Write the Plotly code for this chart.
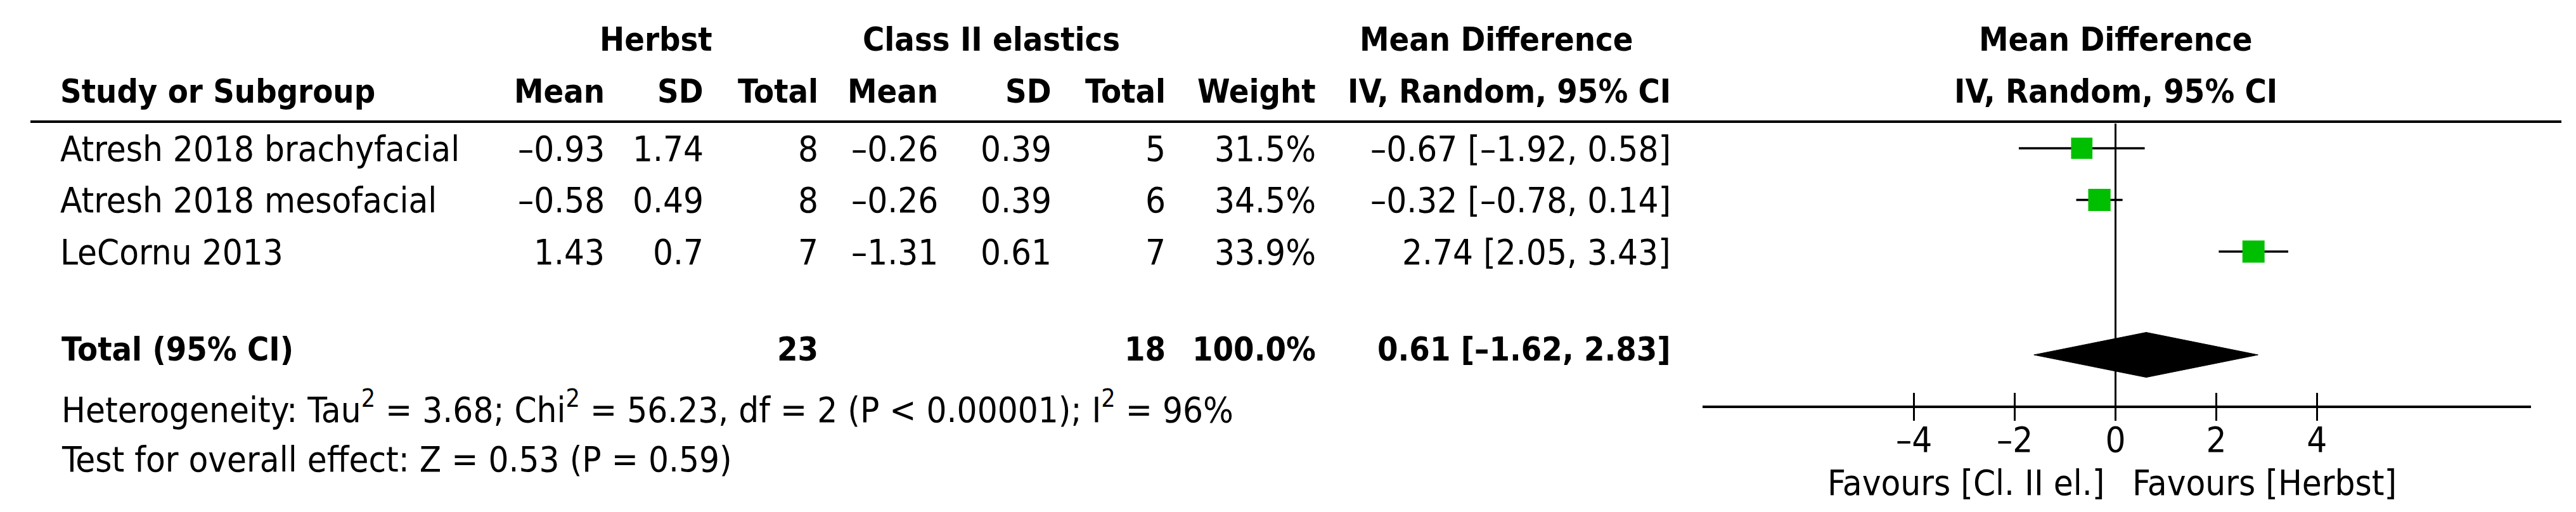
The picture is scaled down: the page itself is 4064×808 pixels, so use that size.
import plotly.graph_objects as go

# ---------------- data ----------------
studies = ["Atresh 2018 brachyfacial", "Atresh 2018 mesofacial", "LeCornu 2013"]
herbst_mean = [-0.93, -0.58, 1.43]
herbst_sd = [1.74, 0.49, 0.7]
herbst_n = [8, 8, 7]
elastic_mean = [-0.26, -0.26, -1.31]
elastic_sd = [0.39, 0.39, 0.61]
elastic_n = [5, 6, 7]
weights = [31.5, 34.5, 33.9]
md = [-0.67, -0.32, 2.74]
ci_low = [-1.92, -0.78, 2.05]
ci_high = [0.58, 0.14, 3.43]
study_rows = [1, 2, 3]

total_label = "Total (95% CI)"
total_herbst_n = 23
total_elastic_n = 18
total_weight = 100.0
total_md = 0.61
total_low = -1.62
total_high = 2.83
total_row = 5

het_tau2 = 3.68
het_chi2 = 56.23
het_df = 2
het_p = "P &lt; 0.00001"
het_i2 = 96
z_value = 0.53
z_p = 0.59

tick_vals = [-4, -2, 0, 2, 4]
left_label = "Favours [Cl. II el.]"
right_label = "Favours [Herbst]"

# ---------------- layout constants ----------------
W, H = 4064, 808
FONT = "DejaVu Sans Condensed"
FS = 56          # regular text
FSB = 52         # bold text
ROW0_PX = 144.5  # pixel y of row 0
ROW_PX = 81.5    # pixels per row
AXIS_X0_PX, AXIS_X1_PX = 2678, 3985
X_RANGE = [-8.2, 8.25]
TEXT_LIFT = 11


def fmt(v, nd=None):
    s = f"{v:.{nd}f}" if nd is not None else f"{v:g}"
    return s.replace("-", "\u2013")


def px_to_row(py):
    return (py - ROW0_PX) / ROW_PX


def paper_x(px):
    return px / W


annotations = []


def add_text(text, x_px, baseline_px, align="left", bold=False, xref="paper", xval=None, xshift=0):
    size = FSB if bold else FS
    centre_px = baseline_px - 0.346 * size - TEXT_LIFT
    annotations.append(dict(
        text=f"<b>{text}</b>" if bold else text,
        x=xval if xval is not None else paper_x(x_px),
        xref=xref,
        y=1 - centre_px / H, yref="paper",
        xanchor=align, yanchor="middle",
        showarrow=False, xshift=xshift,
        font=dict(family=FONT, size=size, color="black"),
    ))


# header line 1
HDR1, HDR2 = 83, 165
add_text("Herbst", 1027, HDR1, "center", True)
add_text("Class II elastics", 1556, HDR1, "center", True)
add_text("Mean Difference", 2353, HDR1, "center", True)
add_text("Mean Difference", None, HDR1, "center", True, xref="x", xval=0)
# header line 2
add_text("Study or Subgroup", 85, HDR2, "left", True)
col_right = dict(hm=948, hsd=1104, hn=1285, em=1474, esd=1653, en=1833, w=2070, ci=2630)
add_text("Mean", col_right["hm"], HDR2, "right", True)
add_text("SD", col_right["hsd"], HDR2, "right", True)
add_text("Total", col_right["hn"], HDR2, "right", True)
add_text("Mean", col_right["em"], HDR2, "right", True)
add_text("SD", col_right["esd"], HDR2, "right", True)
add_text("Total", col_right["en"], HDR2, "right", True)
add_text("Weight", col_right["w"], HDR2, "right", True)
add_text("IV, Random, 95% CI", col_right["ci"], HDR2, "right", True)
add_text("IV, Random, 95% CI", None, HDR2, "center", True, xref="x", xval=0)

# study rows
row_baselines = [257, 338, 420]
for i, s in enumerate(studies):
    b = row_baselines[i]
    add_text(s, 85, b, "left")
    add_text(fmt(herbst_mean[i]), col_right["hm"], b, "right")
    add_text(fmt(herbst_sd[i]), col_right["hsd"], b, "right")
    add_text(str(herbst_n[i]), col_right["hn"], b, "right")
    add_text(fmt(elastic_mean[i]), col_right["em"], b, "right")
    add_text(fmt(elastic_sd[i]), col_right["esd"], b, "right")
    add_text(str(elastic_n[i]), col_right["en"], b, "right")
    add_text(f"{weights[i]:.1f}%", col_right["w"], b, "right")
    add_text(f"{fmt(md[i], 2)} [{fmt(ci_low[i], 2)}, {fmt(ci_high[i], 2)}]", col_right["ci"], b, "right")

# total row
TB = 572
add_text(total_label, 87, TB, "left", True)
add_text(str(total_herbst_n), col_right["hn"], TB, "right", True)
add_text(str(total_elastic_n), col_right["en"], TB, "right", True)
add_text(f"{total_weight:.1f}%", col_right["w"], TB, "right", True)
add_text(f"{fmt(total_md, 2)} [{fmt(total_low, 2)}, {fmt(total_high, 2)}]", col_right["ci"], TB, "right", True)

# footer
add_text(f"Heterogeneity: Tau<sup>2</sup> = {het_tau2:.2f}; Chi<sup>2</sup> = {het_chi2:.2f}, "
         f"df = {het_df} ({het_p}); I<sup>2</sup> = {het_i2}%", 87, 665, "left")
add_text(f"Test for overall effect: Z = {z_value:.2f} (P = {z_p:.2f})", 87, 747, "left")

# favours labels
add_text(left_label, None, 784, "right", xref="x", xval=0, xshift=-16)
add_text(right_label, None, 784, "left", xref="x", xval=0, xshift=24)

# ---------------- figure ----------------
fig = go.Figure()

# study CIs + squares
fig.add_trace(go.Scatter(
    x=md, y=study_rows, mode="markers",
    marker=dict(symbol="square", color="#00BF00", opacity=1,
                size=[6.0 * w ** 0.5 for w in weights], line=dict(width=0)),
    error_x=dict(type="data", symmetric=False,
                 array=[h - m for h, m in zip(ci_high, md)],
                 arrayminus=[m - l for m, l in zip(md, ci_low)],
                 width=0, thickness=3.5, color="black"),
    hoverinfo="skip", showlegend=False,
))

# pooled diamond
DH = 35.5 / ROW_PX
fig.add_trace(go.Scatter(
    x=[total_low, total_md, total_high, total_md, total_low],
    y=[total_row, total_row - DH, total_row, total_row + DH, total_row],
    mode="lines", fill="toself", fillcolor="black",
    line=dict(color="black", width=1),
    hoverinfo="skip", showlegend=False,
))

shapes = [
    # header underline
    dict(type="line", xref="paper", yref="paper", x0=40 / W, x1=4033 / W,
         y0=1 - 184 / H, y1=1 - 184 / H, line=dict(color="black", width=4)),
    # line of no effect
    dict(type="line", xref="x", yref="y", x0=0, x1=0, y0=px_to_row(187), y1=px_to_row(634),
         line=dict(color="black", width=3)),
]

axis_pos = 1 - 634 / H
dom = [AXIS_X0_PX / W, AXIS_X1_PX / W]
fig.update_layout(
    width=W, height=H,
    margin=dict(l=0, r=0, t=0, b=0),
    paper_bgcolor="white", plot_bgcolor="white",
    font=dict(family=FONT, size=FS, color="black"),
    showlegend=False,
    # main axis: line, upper tick halves and labels
    xaxis=dict(domain=dom, range=X_RANGE, anchor="free", position=axis_pos,
               showgrid=False, zeroline=False, showline=True, linecolor="black", linewidth=4,
               ticks="inside", ticklen=20, tickwidth=3, tickcolor="black",
               tickvals=tick_vals, ticktext=[fmt(v) for v in tick_vals],
               ticklabelstandoff=2,
               tickfont=dict(family=FONT, size=FS, color="black"), fixedrange=True),
    # overlay axis: lower tick halves
    xaxis2=dict(domain=dom, range=X_RANGE, anchor="free", position=axis_pos, overlaying="x",
                matches="x", showgrid=False, zeroline=False, showline=False,
                ticks="outside", ticklen=21, tickwidth=3, tickcolor="black",
                tickvals=tick_vals, showticklabels=False),
    yaxis=dict(domain=[0, 1], range=[px_to_row(H), px_to_row(0)], visible=False, fixedrange=True),
    shapes=shapes,
    annotations=annotations,
)
# invisible point that activates the second (lower-tick) x axis
fig.add_trace(go.Scatter(x=[0], y=[0], xaxis="x2", yaxis="y", mode="markers",
                         marker=dict(opacity=0), hoverinfo="skip", showlegend=False))

fig.write_html("out.html")
